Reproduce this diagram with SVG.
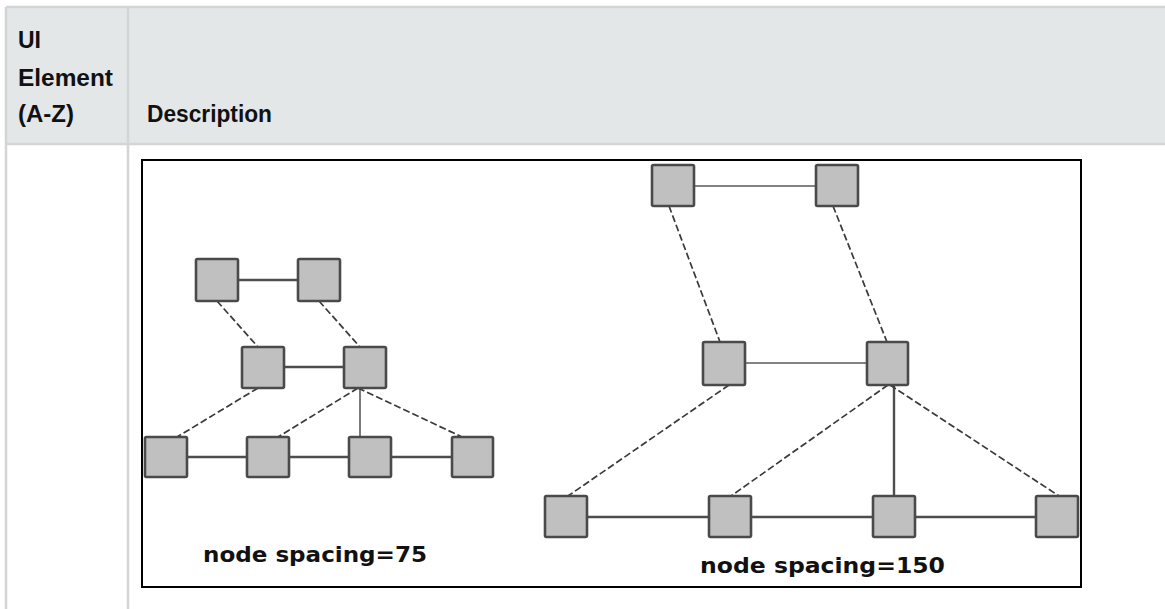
<svg xmlns="http://www.w3.org/2000/svg" width="1165" height="609" viewBox="0 0 1165 609">
<style>
.hdr{font-family:"Liberation Sans",Arial,sans-serif;font-weight:bold;font-size:23px;fill:#111}
.grid{stroke:#d2d4d5;stroke-width:2.5;fill:none}
.node{fill:#c0c0c0;stroke:#4a4a4a;stroke-width:2.6}
.solid{stroke:#4d4d4d;stroke-width:2.4;fill:none}
.thin{stroke:#5a5a5a;stroke-width:1.6;fill:none}
.dash{stroke:#3a3a3a;stroke-width:1.7;stroke-dasharray:7 3;fill:none}
.lbl{font-family:"DejaVu Sans",sans-serif;font-weight:bold;font-size:22px;fill:#111}
</style>
<rect width="1165" height="609" fill="#fff"/>
<g id="table">
<rect x="6" y="7" width="1159" height="137" fill="#e4e7e8"/>
<line class="grid" x1="6" y1="7" x2="1165" y2="7"/>
<line class="grid" x1="6" y1="144" x2="1165" y2="144"/>
<line class="grid" x1="6" y1="7" x2="6" y2="609"/>
<line class="grid" x1="128" y1="7" x2="128" y2="609"/>
<text class="hdr" x="18" y="48">UI</text>
<text class="hdr" x="18" y="86" textLength="95" lengthAdjust="spacingAndGlyphs">Element</text>
<text class="hdr" x="18" y="122" textLength="56" lengthAdjust="spacingAndGlyphs">(A-Z)</text>
<text class="hdr" x="147" y="122" textLength="125" lengthAdjust="spacingAndGlyphs">Description</text>
</g>
<rect id="frame" x="142" y="160" width="939" height="427" fill="#fff" stroke="#000" stroke-width="2"/>
<g id="connectors">
<line class="solid" x1="238" y1="280" x2="298" y2="280"/>
<line class="solid" x1="284" y1="367" x2="344" y2="367"/>
<line class="solid" x1="187" y1="457" x2="247" y2="457"/>
<line class="solid" x1="289" y1="457" x2="349" y2="457"/>
<line class="solid" x1="391" y1="457" x2="452" y2="457"/>
<line class="thin" x1="360" y1="388" x2="360" y2="437"/>
<line class="dash" x1="217" y1="301" x2="258" y2="347"/>
<line class="dash" x1="319" y1="301" x2="360" y2="347"/>
<line class="dash" x1="258" y1="388" x2="177" y2="437"/>
<line class="dash" x1="358" y1="388" x2="278" y2="437"/>
<line class="dash" x1="358" y1="388" x2="462" y2="437"/>
<line class="thin" x1="694" y1="186" x2="816" y2="186"/>
<line class="thin" x1="745" y1="363" x2="867" y2="363"/>
<line class="solid" x1="587" y1="517" x2="709" y2="517"/>
<line class="solid" x1="751" y1="517" x2="873" y2="517"/>
<line class="solid" x1="915" y1="517" x2="1036" y2="517"/>
<line class="solid" x1="894" y1="385" x2="894" y2="496"/>
<line class="dash" x1="669" y1="206" x2="720" y2="342"/>
<line class="dash" x1="833" y1="206" x2="887" y2="342"/>
<line class="dash" x1="729" y1="385" x2="568" y2="496"/>
<line class="dash" x1="888" y1="385" x2="731" y2="496"/>
<line class="dash" x1="890" y1="385" x2="1059" y2="496"/>
</g>
<g id="n1"><rect class="node" x="196" y="259" width="42" height="42" rx="1.5"/></g>
<g id="n2"><rect class="node" x="298" y="259" width="42" height="42" rx="1.5"/></g>
<g id="n3"><rect class="node" x="242" y="347" width="42" height="41" rx="1.5"/></g>
<g id="n4"><rect class="node" x="344" y="347" width="42" height="41" rx="1.5"/></g>
<g id="n5"><rect class="node" x="145" y="437" width="42" height="40" rx="1.5"/></g>
<g id="n6"><rect class="node" x="247" y="437" width="42" height="40" rx="1.5"/></g>
<g id="n7"><rect class="node" x="349" y="437" width="42" height="40" rx="1.5"/></g>
<g id="n8"><rect class="node" x="452" y="437" width="41" height="40" rx="1.5"/></g>
<g id="m1"><rect class="node" x="652" y="165" width="42" height="41" rx="1.5"/></g>
<g id="m2"><rect class="node" x="816" y="165" width="42" height="41" rx="1.5"/></g>
<g id="m3"><rect class="node" x="703" y="342" width="42" height="43" rx="1.5"/></g>
<g id="m4"><rect class="node" x="867" y="342" width="41" height="43" rx="1.5"/></g>
<g id="m5"><rect class="node" x="545" y="496" width="42" height="41" rx="1.5"/></g>
<g id="m6"><rect class="node" x="709" y="496" width="42" height="41" rx="1.5"/></g>
<g id="m7"><rect class="node" x="873" y="496" width="42" height="41" rx="1.5"/></g>
<g id="m8"><rect class="node" x="1036" y="496" width="42" height="41" rx="1.5"/></g>
<text class="lbl" x="203" y="562" textLength="224" lengthAdjust="spacingAndGlyphs">node spacing=75</text>
<text class="lbl" x="700" y="573" textLength="245" lengthAdjust="spacingAndGlyphs">node spacing=150</text>
</svg>
